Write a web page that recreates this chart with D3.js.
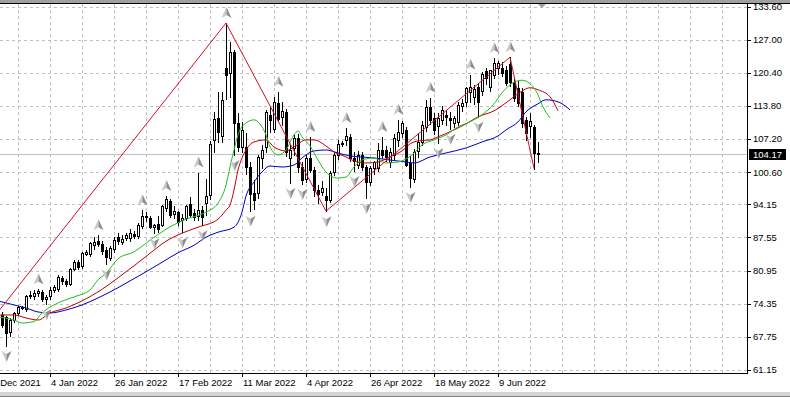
<!DOCTYPE html>
<html>
<head>
<meta charset="utf-8">
<script src="https://cdn.jsdelivr.net/npm/d3@7"></script>
<style>
    html, body { margin: 0; padding: 0; background: #fff; }
    svg { display: block; font-family: "Liberation Sans", Arial, sans-serif; }
</style>
</head>
<body>
<div id="chart"></div>
<script>
// daily bars, index 0 = first visible bar
const barOpen = [
    72.1, 71.6, 68.7, 71.1, 72.5, 73.6, 73.3, 75.9, 75.9, 76.5,
    76.7, 75.2, 75.8, 77.0, 77.3, 79.5, 78.8, 78.3, 81.3, 82.7,
    81.8, 84.2, 84.3, 86.0, 86.8, 86.2, 85.0, 83.5, 85.2, 87.6,
    86.7, 87.4, 87.5, 88.3, 87.8, 89.8, 91.6, 91.5, 89.6, 90.2,
    90.0, 93.5, 94.8, 92.2, 92.6, 91.0, 91.4, 94.2, 92.4, 91.8,
    93.0, 94.4, 96.0, 107.0, 111.4, 107.8, 121.3, 120.4, 124.5, 110.4,
    105.6, 105.6, 101.6, 96.4, 96.4, 103.4, 105.6, 112.0, 109.2, 114.4,
    111.6, 112.6, 103.4, 105.4, 107.4, 101.6, 99.2, 103.4, 101.0, 97.0,
    96.6, 95.8, 95.0, 100.6, 104.0, 106.2, 107.0, 107.6, 103.4, 102.0,
    104.0, 101.6, 98.6, 101.4, 101.4, 105.0, 105.0, 102.6, 104.0, 107.0,
    108.4, 109.0, 102.4, 99.2, 104.8, 106.6, 109.6, 113.6, 111.4, 109.8,
    111.0, 112.0, 111.4, 110.4, 110.6, 113.8, 114.6, 116.6, 115.6, 117.5,
    116.8, 120.7, 117.6, 120.0, 121.4, 121.4, 121.0, 122.2, 118.6, 117.4,
    116.6, 110.9, 109.8, 109.6, 104.3
];
const barHigh = [
    72.6, 71.9, 71.4, 72.6, 73.9, 73.9, 76.1, 76.8, 77.0, 77.2,
    77.0, 76.1, 77.6, 78.0, 80.0, 79.9, 79.2, 81.5, 83.0, 83.1,
    84.6, 85.0, 86.7, 87.6, 88.0, 86.9, 85.6, 85.8, 87.6, 88.4,
    88.0, 88.4, 89.3, 88.9, 90.4, 93.0, 92.6, 91.9, 90.3, 91.8,
    94.0, 95.8, 95.2, 93.9, 92.9, 92.2, 94.0, 95.6, 93.2, 100.5,
    93.8, 99.2, 106.8, 112.5, 116.5, 116.6, 130.3, 126.5, 125.0, 112.4,
    110.5, 108.4, 102.5, 99.0, 104.0, 106.0, 113.0, 113.6, 115.6, 116.6,
    114.5, 113.2, 106.0, 108.0, 108.2, 102.6, 103.9, 107.6, 101.6, 98.0,
    98.8, 97.4, 100.8, 104.6, 107.0, 106.8, 109.4, 108.2, 104.5, 104.8,
    104.5, 102.0, 101.8, 102.8, 106.4, 107.6, 105.8, 105.4, 108.2, 111.0,
    110.8, 109.6, 103.8, 105.2, 108.4, 110.8, 115.0, 115.4, 112.4, 112.4,
    113.8, 113.0, 112.6, 111.8, 114.6, 115.2, 117.6, 120.0, 118.0, 118.4,
    120.6, 121.4, 121.0, 123.3, 122.8, 122.6, 121.8, 123.5, 119.4, 118.8,
    117.4, 111.6, 112.4, 110.0, 106.6
];
const barLow = [
    69.8, 65.9, 68.0, 70.7, 72.1, 73.2, 72.8, 75.5, 75.3, 75.8,
    74.9, 74.3, 75.3, 76.6, 76.8, 78.2, 77.8, 78.1, 81.0, 81.3,
    81.5, 84.0, 83.8, 85.2, 85.8, 84.3, 82.2, 83.0, 84.6, 86.3,
    86.2, 87.0, 86.8, 87.4, 87.4, 89.5, 90.9, 89.4, 88.4, 88.7,
    89.8, 92.9, 91.7, 91.5, 90.0, 88.6, 91.0, 91.6, 91.0, 91.0,
    90.0, 92.0, 95.3, 104.6, 106.5, 106.6, 115.2, 115.6, 104.0, 104.8,
    104.6, 100.2, 92.9, 93.2, 95.5, 101.5, 104.5, 108.5, 108.6, 110.8,
    110.0, 103.8, 98.4, 104.0, 100.6, 98.2, 98.6, 100.6, 95.8, 94.5,
    96.0, 92.8, 94.6, 100.0, 103.2, 105.8, 106.0, 102.8, 100.8, 101.4,
    101.0, 95.4, 98.0, 100.2, 100.8, 103.4, 102.8, 101.6, 103.2, 105.8,
    107.6, 101.8, 97.6, 98.6, 103.6, 106.0, 108.8, 110.2, 108.2, 106.4,
    110.2, 110.0, 109.2, 109.6, 110.0, 112.8, 113.8, 114.6, 114.2, 111.6,
    116.0, 118.2, 116.8, 119.4, 120.2, 119.8, 118.0, 117.8, 114.8, 113.8,
    109.6, 107.0, 107.6, 101.3, 102.6
];
const barClose = [
    70.1, 68.6, 71.1, 72.4, 73.7, 73.5, 75.8, 76.1, 76.5, 76.8,
    75.3, 75.7, 77.1, 77.6, 79.6, 78.8, 78.2, 81.3, 82.7, 81.6,
    84.4, 84.6, 86.4, 86.6, 86.3, 84.9, 83.6, 85.4, 87.1, 86.8,
    87.2, 88.0, 88.5, 87.9, 90.0, 91.8, 91.8, 89.6, 90.0, 89.3,
    93.8, 95.2, 92.0, 92.9, 90.6, 91.4, 93.8, 92.0, 91.6, 93.0,
    91.6, 95.8, 106.2, 111.2, 108.6, 115.0, 119.9, 124.5, 110.4, 105.6,
    109.0, 101.6, 96.2, 95.0, 103.6, 105.0, 112.6, 111.0, 114.6, 111.2,
    112.8, 104.6, 105.0, 107.4, 101.6, 99.0, 103.4, 101.0, 97.0, 96.2,
    97.4, 95.0, 100.4, 104.0, 106.2, 106.4, 107.8, 103.4, 102.8, 104.0,
    101.6, 98.6, 101.4, 102.6, 105.0, 104.0, 103.6, 104.6, 107.4, 108.6,
    110.4, 102.0, 99.4, 104.6, 106.6, 110.0, 113.6, 111.0, 109.0, 111.4,
    113.0, 111.6, 111.0, 111.4, 114.0, 114.4, 117.3, 117.6, 117.2, 114.6,
    120.2, 119.3, 120.9, 122.4, 122.4, 120.4, 118.4, 118.6, 115.4, 114.4,
    110.4, 108.4, 110.8, 104.4, 104.17
];
const lastPrice = 104.17;

// alligator lines: [bar, price]
const jawPoints = [
    [-1, 74.9], [3, 74.1], [6, 73.5], [9, 72.7], [12, 72.5], [16, 73.1], [20, 74.1], [24, 75.5],
    [28, 77.1], [32, 78.9], [36, 80.7], [40, 82.6], [44, 84.5], [48, 86.0], [51, 87.6], [54, 88.6],
    [58, 89.6], [60, 92.6], [61, 95.8], [63, 98.6], [65, 100.6], [67, 101.8], [70, 101.6], [73, 102.0],
    [75, 103.4], [78, 104.8], [81, 105.0], [84, 104.4], [87, 103.8], [90, 103.6], [93, 103.4], [97, 103.0],
    [101, 102.6], [103, 102.4], [107, 103.6], [111, 104.4], [116, 105.4], [120, 106.6], [124, 107.8],
    [126, 109.0], [129, 110.6], [131, 112.6], [134, 114.2], [136, 115.0], [139, 114.6], [142, 113.0]
];
const teethPoints = [
    [-1, 72.1], [3, 72.1], [6, 71.5], [9, 71.1], [12, 72.5], [16, 73.5], [20, 74.9], [24, 76.7],
    [29, 79.5], [33, 81.9], [37, 84.4], [41, 86.8], [45, 88.4], [49, 89.6], [54, 91.2], [56, 93.0],
    [57, 94.0], [58, 97.0], [59, 101.0], [60, 103.4], [61, 105.0], [63, 106.6], [66, 107.0], [68, 105.6],
    [71, 104.8], [73, 105.6], [76, 107.0], [78, 107.0], [81, 105.8], [83, 104.6], [86, 103.6], [88, 102.8],
    [91, 102.4], [94, 102.6], [96, 103.2], [98, 104.0], [100, 104.8], [102, 106.2], [104, 106.8],
    [107, 107.0], [109, 107.6], [113, 109.0], [116, 110.2], [119, 111.6], [123, 112.8], [126, 114.4],
    [129, 116.2], [132, 117.4], [134, 117.0], [137, 115.6], [139, 112.8]
];
const lipsPoints = [
    [-1, 71.7], [3, 71.1], [5, 70.5], [8, 70.8], [10, 72.5], [14, 74.5], [18, 75.7], [22, 77.1],
    [24, 79.1], [26, 80.4], [29, 83.3], [33, 84.7], [37, 87.0], [41, 89.2], [46, 91.2], [51, 92.6],
    [54, 94.4], [56, 98.0], [57, 101.6], [58, 105.0], [59, 108.0], [61, 110.4], [63, 111.0], [64, 110.6],
    [66, 108.0], [67, 105.6], [69, 104.0], [71, 105.0], [73, 108.0], [74, 108.8], [75, 107.6], [77, 105.8],
    [79, 103.0], [81, 100.6], [84, 99.4], [86, 99.6], [88, 101.6], [90, 103.0], [93, 103.4], [96, 102.4],
    [99, 102.6], [101, 103.2], [103, 104.4], [105, 106.0], [108, 107.0], [111, 108.0], [114, 109.6],
    [117, 110.6], [120, 112.0], [123, 114.2], [125, 116.4], [127, 118.0], [130, 118.9], [132, 118.2],
    [134, 116.0], [135, 114.0], [137, 111.4]
];
const zigzagPoints = [[-11, 62.6], [56, 130.3], [81, 92.8], [127, 123.5], [133, 101.3]];
const fractalUp = [9, 24, 35, 41, 49, 56, 69, 77, 86, 95, 99, 107, 117, 123, 127];
const fractalDown = [1, 11, 26, 38, 45, 50, 58, 62, 72, 75, 81, 88, 91, 102, 109, 112, 119];

const priceTicks = [133.60, 127.00, 120.40, 113.80, 107.20, 100.60, 94.15, 87.55, 80.95, 74.35, 67.75, 61.15];
const dateTickBars = [-4, 12, 28, 44, 60, 76, 92, 108, 124];
const dateTickLabels = ["13 Dec 2021", "4 Jan 2022", "26 Jan 2022", "17 Feb 2022", "11 Mar 2022",
    "4 Apr 2022", "26 Apr 2022", "18 May 2022", "9 Jun 2022"];

document.addEventListener('DOMContentLoaded', function () {
    drawChart("#chart");

    function drawChart(container) {
        const width = 790, height = 397;
        const plot = { left: 0, right: 747, top: 4, bottom: 373 };

        const svg = d3.select(container).append("svg")
            .attr("width", width)
            .attr("height", height);

        // scales: bar index -> x, price -> y
        const x = d3.scaleLinear().domain([0, 134]).range([2, 538]);
        const y = d3.scaleLinear().domain([61.15, 133.60]).range([369.9, 6.5]);
        const px = v => Math.round(v) + 0.5;

        svg.append("defs").append("clipPath").attr("id", "plot-clip")
            .append("rect")
            .attr("x", plot.left).attr("y", plot.top)
            .attr("width", plot.right - plot.left).attr("height", plot.bottom - plot.top);

        // window frame
        svg.append("rect").attr("x", 0).attr("y", 0).attr("width", width).attr("height", 3).attr("fill", "#a0a0a0");
        svg.append("line").attr("x1", 0).attr("x2", width).attr("y1", 3.5).attr("y2", 3.5).attr("stroke", "#000");
        svg.append("rect").attr("x", 0).attr("y", 392).attr("width", width).attr("height", 5).attr("fill", "#d4d4d4");
        svg.append("line").attr("x1", 0).attr("x2", width).attr("y1", 396.5).attr("y2", 396.5).attr("stroke", "#808080");

        const g = svg.append("g").attr("clip-path", "url(#plot-clip)");

        // grid
        g.selectAll(".hgrid").data(priceTicks).enter().append("line")
            .attr("x1", plot.left).attr("x2", plot.right)
            .attr("y1", d => px(y(d))).attr("y2", d => px(y(d)))
            .attr("stroke", "#c0c0c0").attr("stroke-dasharray", "3,3");
        g.selectAll(".vgrid").data(d3.range(4, 184, 8)).enter().append("line")
            .attr("x1", d => px(x(d))).attr("x2", d => px(x(d)))
            .attr("y1", plot.top).attr("y2", plot.bottom)
            .attr("stroke", "#c0c0c0").attr("stroke-dasharray", "3,3");

        // last price line
        g.append("line")
            .attr("x1", plot.left).attr("x2", plot.right)
            .attr("y1", px(y(lastPrice))).attr("y2", px(y(lastPrice)))
            .attr("stroke", "#c0c0c0");

        // candles
        const bars = d3.range(barOpen.length);
        g.selectAll(".wick").data(bars).enter().append("line")
            .attr("x1", d => Math.round(x(d)) + 0.5).attr("x2", d => Math.round(x(d)) + 0.5)
            .attr("y1", d => Math.round(y(barHigh[d]))).attr("y2", d => Math.round(y(barLow[d])) + 1)
            .attr("stroke", "#000");
        g.selectAll(".body").data(bars).enter().append("rect")
            .attr("x", d => Math.round(x(d)) - 0.5)
            .attr("y", d => Math.round(y(Math.max(barOpen[d], barClose[d]))) + 0.5)
            .attr("width", 2)
            .attr("height", d => Math.max(0, Math.round(y(Math.min(barOpen[d], barClose[d]))) - Math.round(y(Math.max(barOpen[d], barClose[d])))))
            .attr("fill", d => barClose[d] >= barOpen[d] ? "#fff" : "#000")
            .attr("stroke", "#000");

        // alligator
        const line = d3.line()
            .x(d => x(d[0]))
            .y(d => y(d[1]))
            .curve(d3.curveMonotoneX);
        g.append("path").datum(jawPoints).attr("d", line).attr("fill", "none").attr("stroke", "#0000c8");
        g.append("path").datum(teethPoints).attr("d", line).attr("fill", "none").attr("stroke", "#c00000");
        g.append("path").datum(lipsPoints).attr("d", line).attr("fill", "none").attr("stroke", "#20c020");

        // zigzag
        g.append("path").datum(zigzagPoints)
            .attr("d", d3.line().x(d => x(d[0])).y(d => y(d[1])))
            .attr("fill", "none").attr("stroke", "#d0102c");

        // fractal arrows
        function arrow(sel, dir) {
            const s = dir;
            sel.append("path").attr("d", `M0,${-6 * s}L0,${2 * s}L-5,${5 * s}Z`).attr("fill", "#c8c8c8");
            sel.append("path").attr("d", `M0,${-6 * s}L5,${5 * s}L0,${2 * s}Z`).attr("fill", "#8c8c8c");
        }
        g.selectAll(".fup").data(fractalUp).enter().append("g")
            .attr("transform", d => `translate(${Math.round(x(d)) + 0.5},${y(barHigh[d]) - 10})`)
            .each(function () { arrow(d3.select(this), 1); });
        g.selectAll(".fdn").data(fractalDown).enter().append("g")
            .attr("transform", d => `translate(${Math.round(x(d)) + 0.5},${y(barLow[d]) + 10})`)
            .each(function () { arrow(d3.select(this), -1); });

        // chart shift marker
        svg.append("path").attr("d", "M538,4L546,4L542,8Z").attr("fill", "#a0a0a0");

        // price axis
        svg.append("line")
            .attr("x1", plot.right + 0.5).attr("x2", plot.right + 0.5)
            .attr("y1", plot.top).attr("y2", plot.bottom + 1)
            .attr("stroke", "#000");
        svg.selectAll(".ptick").data(priceTicks).enter().append("line")
            .attr("x1", plot.right).attr("x2", plot.right + 4)
            .attr("y1", d => px(y(d))).attr("y2", d => px(y(d)))
            .attr("stroke", "#000");
        svg.selectAll(".plabel").data(priceTicks).enter().append("text")
            .attr("x", plot.right + 6)
            .attr("y", d => y(d) + 3.5)
            .style("font-size", "9.5px")
            .attr("fill", "#000")
            .text(d => d.toFixed(2));

        svg.append("rect")
            .attr("x", plot.right + 2).attr("y", Math.round(y(lastPrice)) - 5)
            .attr("width", 37).attr("height", 11)
            .attr("fill", "#000");
        svg.append("text")
            .attr("x", plot.right + 6).attr("y", y(lastPrice) + 3.5)
            .style("font-size", "9.5px")
            .attr("fill", "#fff")
            .text(lastPrice.toFixed(2));

        // time axis
        svg.append("line")
            .attr("x1", plot.left).attr("x2", plot.right + 1)
            .attr("y1", plot.bottom + 0.5).attr("y2", plot.bottom + 0.5)
            .attr("stroke", "#000");
        svg.selectAll(".ttick").data(dateTickBars).enter().append("line")
            .attr("x1", d => px(x(d))).attr("x2", d => px(x(d)))
            .attr("y1", plot.bottom).attr("y2", plot.bottom + 4)
            .attr("stroke", "#000");
        svg.selectAll(".tlabel").data(dateTickBars).enter().append("text")
            .attr("x", (d, i) => Math.round(x(d)) + 1)
            .attr("y", 386)
            .style("font-size", "9.5px")
            .attr("fill", "#000")
            .text((d, i) => dateTickLabels[i]);
    }
});
</script>
</body>
</html>
